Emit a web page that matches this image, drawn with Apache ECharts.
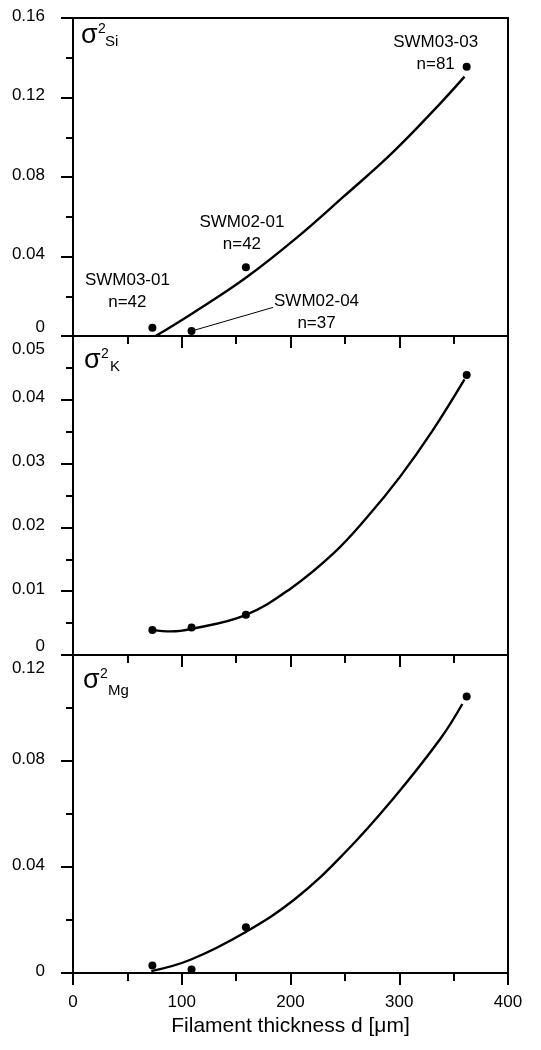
<!DOCTYPE html>
<html lang="en">
<head>
<meta charset="UTF-8">
<title>Filament thickness</title>
<script src="https://cdn.jsdelivr.net/npm/echarts@6/dist/echarts.min.js"></script>
<style>html,body{margin:0;padding:0;background:#fff;}</style>
</head>
<body>
<div id="main" style="width:541px;height:1050px;"></div>
<script type="text/javascript">
// samples
var thickness   = [73, 109, 159, 362];
var sampleNames = ['SWM03-01', 'SWM02-04', 'SWM02-01', 'SWM03-03'];
var sampleN     = [42, 37, 42, 81];

// measured variances
var varSi = [0.0042, 0.0025, 0.0346, 0.1355];
var varK  = [0.0039, 0.0043, 0.0063, 0.0439];
var varMg = [0.0028, 0.0013, 0.0173, 0.1043];

// fitted curves
var fitSiX = [76, 110, 158, 205, 249, 294, 338, 360];
var fitSiY = [0, 0.0115, 0.0289, 0.0491, 0.0702, 0.0924, 0.1172, 0.1305];
var fitKX  = [73, 90, 109, 158, 200, 240, 270, 301, 330, 360];
var fitKY  = [0.0039, 0.0037, 0.0041, 0.0062, 0.0104, 0.0160, 0.0215, 0.0280, 0.0350, 0.0432];
var fitMgX = [72, 108, 158, 205, 249, 294, 338, 358];
var fitMgY = [0.0007, 0.0050, 0.0153, 0.0282, 0.0450, 0.0656, 0.0885, 0.1015];

// pointer line to the SWM02-04 label
var calloutX = [109, 184];
var calloutY = [0.0025, 0.0144];

// axes
var xMin = 0, xMax = 400, xStep = 100;
var yMax  = [0.16, 0.05, 0.12];
var yStep = [0.04, 0.01, 0.04];

var FONT = '"Liberation Sans", Arial, sans-serif';

function zip(xs, ys) {
    return xs.map(function (x, i) { return [x, ys[i]]; });
}

var myChart = echarts.init(document.getElementById('main'));

var grids = [
    {left: 73, width: 435, top: 18,  height: 318},
    {left: 73, width: 435, top: 336, height: 319},
    {left: 73, width: 435, top: 655, height: 318}
];
grids.forEach(function (g) {
    g.show = true; g.borderColor = '#000'; g.borderWidth = 2; g.containLabel = false;
});

var tickStyle = {color: '#000', width: 2};

var xAxes = [0, 1, 2].map(function (i) {
    return {
        gridIndex: i, type: 'value', min: xMin, max: xMax, interval: xStep,
        axisLine: {show: true, onZero: false, lineStyle: tickStyle},
        axisTick: {show: true, inside: false, length: 12, lineStyle: tickStyle},
        minorTick: {show: true, splitNumber: 2, length: 8, lineStyle: tickStyle},
        splitLine: {show: false},
        axisLabel: {show: i === 2, margin: 21, color: '#000', fontSize: 17, fontFamily: FONT},
        name: i === 2 ? 'Filament thickness d [μm]' : '',
        nameLocation: 'middle', nameGap: 43,
        nameTextStyle: {color: '#000', fontSize: 21, fontFamily: FONT}
    };
});

var yAxes = [0, 1, 2].map(function (i) {
    return {
        gridIndex: i, type: 'value', min: 0, max: yMax[i], interval: yStep[i],
        axisLine: {show: true, onZero: false, lineStyle: tickStyle},
        axisTick: {show: true, inside: false, length: 12, lineStyle: tickStyle},
        minorTick: {show: true, splitNumber: 2, length: 7, lineStyle: tickStyle},
        splitLine: {show: false},
        axisLabel: {
            margin: 28, color: '#000', fontSize: 17, fontFamily: FONT,
            formatter: function (v) {
                var s = String(+v.toFixed(3));
                if (v === 0 && i < 2) return '{lo|' + s + '}';           // 0 at a panel join sits above
                if (Math.abs(v - yMax[i]) < 1e-9 && i > 0) return '{hi|' + s + '}'; // top value sits below
                return '{n|' + s + '}';
            },
            rich: {
                n:  {fontSize: 17, fontFamily: FONT, color: '#000', padding: [0, 0, 4, 0]},
                lo: {fontSize: 17, fontFamily: FONT, color: '#000', padding: [0, 0, 17, 0]},
                hi: {fontSize: 17, fontFamily: FONT, color: '#000', padding: [26, 0, 0, 0]}
            }
        }
    };
});

// label offsets for the Si panel points (relative to the dot)
var siLabelOffset = [[-25, -36], [125, -19], [-4, -34], [-31, -13]];

function dots(i, ys, withLabels) {
    return {
        type: 'scatter', xAxisIndex: i, yAxisIndex: i,
        symbol: 'circle', symbolSize: 8, z: 5,
        itemStyle: {color: '#000', opacity: 1},
        data: thickness.map(function (x, k) {
            var item = {value: [x, ys[k]]};
            if (withLabels) {
                item.label = {
                    show: true, position: 'inside', offset: siLabelOffset[k],
                    formatter: sampleNames[k] + '\nn=' + sampleN[k],
                    color: '#000', fontSize: 17, lineHeight: 22, fontFamily: FONT, align: 'center'
                };
            }
            return item;
        })
    };
}

function fit(i, xs, ys) {
    return {
        type: 'line', xAxisIndex: i, yAxisIndex: i,
        data: zip(xs, ys), smooth: 0.4, showSymbol: false, symbol: 'none',
        lineStyle: {color: '#000', width: 2.4}, z: 4
    };
}

function txt(x, y, text, size) {
    return {type: 'text', x: x, y: y, z: 10,
        style: {text: text, font: size + 'px ' + FONT, fill: '#000',
            align: 'left', verticalAlign: 'middle', textAlign: 'left', textVerticalAlign: 'middle'}};
}

function sigmaLabel(x, y, sub, subDx, subDy) {
    return [
        txt(x, y, 'σ', 27),
        txt(x + 17, y - 7, '2', 14),
        txt(x + subDx, y + subDy, sub, 15)
    ];
}

myChart.setOption({
    animation: false,
    backgroundColor: '#fff',
    textStyle: {fontFamily: FONT},
    grid: grids,
    xAxis: xAxes,
    yAxis: yAxes,
    graphic: [].concat(
        sigmaLabel(81, 36, 'Si', 24, 6),
        sigmaLabel(84, 361, 'K', 26, 6),
        sigmaLabel(83, 681, 'Mg', 25, 10)
    ),
    series: [
        fit(0, fitSiX, fitSiY),
        dots(0, varSi, true),
        {
            type: 'line', xAxisIndex: 0, yAxisIndex: 0,
            data: zip(calloutX, calloutY), symbol: 'none',
            lineStyle: {color: '#000', width: 1}, z: 3
        },
        fit(1, fitKX, fitKY),
        dots(1, varK, false),
        fit(2, fitMgX, fitMgY),
        dots(2, varMg, false)
    ]
});
</script>
</body>
</html>
